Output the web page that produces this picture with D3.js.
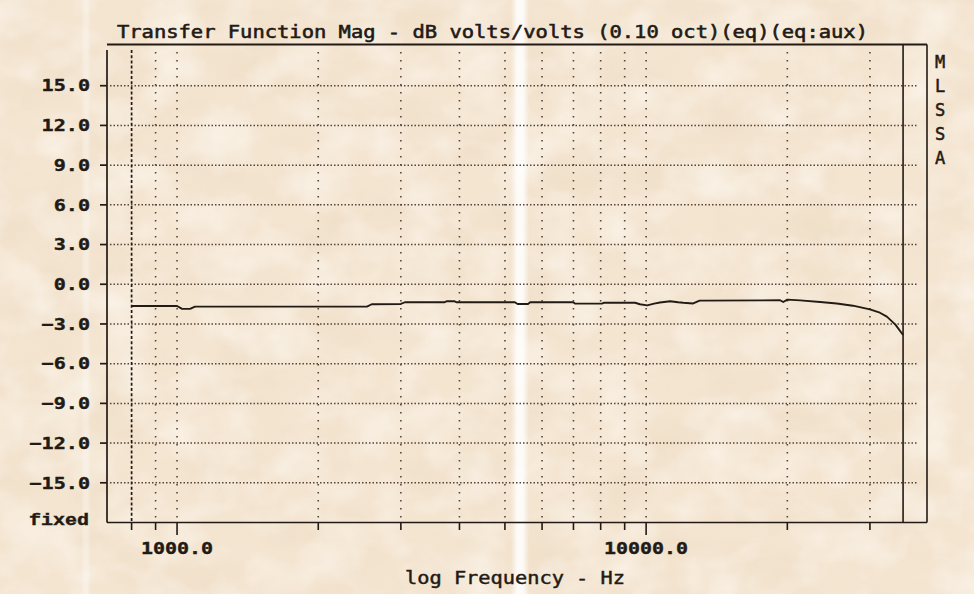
<!DOCTYPE html>
<html>
<head>
<meta charset="utf-8">
<script src="https://cdn.jsdelivr.net/npm/d3@7/dist/d3.min.js"></script>
<style>
  html, body { margin: 0; padding: 0; background: #f3e4d0; }
  svg { display: block; }
</style>
</head>
<body>
<svg id="chart" width="974" height="594"></svg>
<script>
// Transfer function magnitude, 0.1-octave smoothed (Hz, dB)
const freqHz = [800, 1000, 1025, 1066, 1092, 2540, 2600, 3000, 3060, 3720, 3760, 3900, 3940,
  5250, 5320, 5600, 5660, 6990, 7050, 8050, 8120, 9470, 9700, 10050, 10400, 10700, 11250,
  11700, 12000, 12600, 13000, 19300, 19600, 20000, 21300, 23500, 25500, 27600, 30000,
  31500, 32600, 34000, 35300];
const magDb = [-1.64, -1.64, -1.86, -1.86, -1.69, -1.69, -1.51, -1.49, -1.36, -1.36, -1.28, -1.28, -1.36,
  -1.36, -1.49, -1.49, -1.36, -1.36, -1.46, -1.46, -1.40, -1.40, -1.51, -1.60, -1.46, -1.38, -1.28,
  -1.36, -1.40, -1.45, -1.24, -1.21, -1.34, -1.16, -1.22, -1.34, -1.45, -1.62, -1.90,
  -2.15, -2.45, -3.05, -3.83];

// Axis ticks and labels
const yTicks = [15, 12, 9, 6, 3, 0, -3, -6, -9, -12, -15];
const xGridHz = [800, 900, 1000, 2000, 3000, 4000, 5000, 6000, 7000, 8000, 9000, 10000, 20000, 30000];
const xLabelHz = [1000, 10000];
const cursorHz = 800;
const titleText = "Transfer Function Mag - dB volts/volts (0.10 oct)(eq)(eq:aux)";
const xAxisTitle = "log Frequency - Hz";
const yModeLabel = "fixed";
const brandLetters = ["M", "L", "S", "S", "A"];

const ink = "#221a15";
const dotInk = "#54443a";
const mono = "'DejaVu Sans Mono', 'Liberation Mono', monospace";

const svg = d3.select("#chart");

// Paper background with soft mottling
const defs = svg.append("defs");
const paper = defs.append("filter").attr("id", "paper")
  .attr("x", 0).attr("y", 0).attr("width", "100%").attr("height", "100%");
paper.append("feTurbulence").attr("type", "fractalNoise")
  .attr("baseFrequency", "0.014 0.02").attr("numOctaves", 4).attr("seed", 11);
paper.append("feColorMatrix").attr("type", "matrix")
  .attr("values", "0 0 0 0 0.86  0 0 0 0 0.73  0 0 0 0 0.57  2.2 0 0 0 -0.85");
const paperLight = defs.append("filter").attr("id", "paperLight")
  .attr("x", 0).attr("y", 0).attr("width", "100%").attr("height", "100%");
paperLight.append("feTurbulence").attr("type", "fractalNoise")
  .attr("baseFrequency", "0.02 0.025").attr("numOctaves", 3).attr("seed", 4);
paperLight.append("feColorMatrix").attr("type", "matrix")
  .attr("values", "0 0 0 0 1  0 0 0 0 0.98  0 0 0 0 0.95  2.2 0 0 0 -0.9");
const band = defs.append("linearGradient").attr("id", "band").attr("x1", 0).attr("x2", 1);
band.append("stop").attr("offset", 0).attr("stop-color", "#fff").attr("stop-opacity", 0);
band.append("stop").attr("offset", 0.35).attr("stop-color", "#fff").attr("stop-opacity", 0.85);
band.append("stop").attr("offset", 0.65).attr("stop-color", "#fff").attr("stop-opacity", 0.85);
band.append("stop").attr("offset", 1).attr("stop-color", "#fff").attr("stop-opacity", 0);

svg.append("rect").attr("width", 974).attr("height", 594).attr("fill", "#f4e5d1");
svg.append("rect").attr("width", 974).attr("height", 594).attr("filter", "url(#paper)").attr("opacity", 0.6);
svg.append("rect").attr("width", 974).attr("height", 594).attr("filter", "url(#paperLight)").attr("opacity", 0.5);
svg.append("rect").attr("x", 511).attr("y", 0).attr("width", 18).attr("height", 594).attr("fill", "url(#band)");
svg.append("rect").attr("x", 81).attr("y", 0).attr("width", 10).attr("height", 594).attr("fill", "url(#band)").attr("opacity", 0.35);

// Scales
const x = d3.scaleLog().domain([709, 39700]).range([107, 927]);
const y = d3.scaleLinear().domain([-18, 18]).range([522.5, 46]);
const plotRight = x(35300);
const gridEnd = 918;

// Horizontal dotted grid
svg.append("g").selectAll("line").data(yTicks).join("line")
  .attr("x1", 110).attr("x2", gridEnd)
  .attr("y1", d => y(d)).attr("y2", d => y(d))
  .attr("stroke", dotInk).attr("stroke-width", 1.5)
  .attr("stroke-dasharray", "1.5 2");

// Vertical dotted grid
svg.append("g").selectAll("line").data(xGridHz.filter(f => f !== cursorHz)).join("line")
  .attr("x1", d => x(d)).attr("x2", d => x(d))
  .attr("y1", y.range()[1] + 6).attr("y2", y.range()[0] - 2)
  .attr("stroke", dotInk).attr("stroke-width", 1.6)
  .attr("stroke-dasharray", "1.6 6.4");

// Cursor line at the start of the measurement
svg.append("line")
  .attr("x1", x(cursorHz)).attr("x2", x(cursorHz))
  .attr("y1", y.range()[1] + 4).attr("y2", y.range()[0])
  .attr("stroke", ink).attr("stroke-width", 1.7)
  .attr("stroke-dasharray", "3 2.2");

// Frame
const frame = svg.append("g").attr("stroke", ink).attr("fill", "none");
frame.append("line").attr("x1", 107).attr("x2", 927).attr("y1", 44.5).attr("y2", 44.5).attr("stroke-width", 2);
frame.append("line").attr("x1", 107).attr("x2", 107).attr("y1", 50).attr("y2", y.range()[0]).attr("stroke-width", 1.7);
frame.append("line").attr("x1", 107).attr("x2", 927).attr("y1", y.range()[0]).attr("y2", y.range()[0]).attr("stroke-width", 1.7);
frame.append("line").attr("x1", plotRight).attr("x2", plotRight).attr("y1", 44.5).attr("y2", y.range()[0]).attr("stroke-width", 1.6);
frame.append("line").attr("x1", 927).attr("x2", 927).attr("y1", 44.5).attr("y2", y.range()[0]).attr("stroke-width", 1.6);

// Y axis ticks and labels
const yAxis = svg.append("g");
yAxis.selectAll("line").data(yTicks).join("line")
  .attr("x1", 100).attr("x2", 107)
  .attr("y1", d => y(d)).attr("y2", d => y(d))
  .attr("stroke", ink).attr("stroke-width", 1.7);
yAxis.selectAll("text").data(yTicks).join("text")
  .attr("x", 90).attr("y", d => y(d))
  .attr("dy", "0.36em").attr("text-anchor", "end")
  .attr("font-family", mono).attr("font-weight", "bold").attr("font-size", 16)
  .attr("fill", ink).attr("stroke", ink).attr("stroke-width", 0.4)
  .attr("textLength", d => d3.format(".1f")(d).length * 12.1)
  .attr("lengthAdjust", "spacingAndGlyphs")
  .text(d => d3.format(".1f")(d));
svg.append("text").attr("x", 89).attr("y", 519).attr("dy", "0.36em")
  .attr("text-anchor", "end")
  .attr("font-family", "'Liberation Mono', 'Courier New', monospace").attr("font-weight", "bold").attr("font-size", 16)
  .attr("fill", ink).attr("stroke", ink).attr("stroke-width", 0.4)
  .attr("textLength", 60).attr("lengthAdjust", "spacingAndGlyphs")
  .text(yModeLabel);

// X axis ticks and labels
const xAxis = svg.append("g");
xAxis.selectAll("line").data(xGridHz).join("line")
  .attr("x1", d => x(d)).attr("x2", d => x(d))
  .attr("y1", y.range()[0]).attr("y2", d => xLabelHz.includes(d) ? 535 : 530)
  .attr("stroke", ink).attr("stroke-width", 1.6);
xAxis.selectAll("text").data(xLabelHz).join("text")
  .attr("x", d => x(d)).attr("y", 548).attr("dy", "0.36em")
  .attr("text-anchor", "middle")
  .attr("font-family", mono).attr("font-weight", "bold").attr("font-size", 16)
  .attr("fill", ink).attr("stroke", ink).attr("stroke-width", 0.4)
  .attr("textLength", d => d3.format(".1f")(d).length * 12)
  .attr("lengthAdjust", "spacingAndGlyphs")
  .text(d => d3.format(".1f")(d));

// Titles
svg.append("text").attr("x", 117).attr("y", 32).attr("dy", "0.36em")
  .attr("font-family", mono).attr("font-size", 17.5).attr("fill", ink)
  .attr("stroke", ink).attr("stroke-width", 0.55)
  .attr("textLength", 751).attr("lengthAdjust", "spacingAndGlyphs")
  .text(titleText);
svg.append("text").attr("x", 405).attr("y", 578).attr("dy", "0.36em")
  .attr("font-family", mono).attr("font-size", 17.5).attr("fill", ink)
  .attr("stroke", ink).attr("stroke-width", 0.45)
  .attr("textLength", 220).attr("lengthAdjust", "spacingAndGlyphs")
  .text(xAxisTitle);

// Vertical brand letters
svg.append("g").selectAll("text").data(brandLetters).join("text")
  .attr("x", 940).attr("y", (d, i) => 62 + i * 24).attr("dy", "0.36em")
  .attr("text-anchor", "middle")
  .attr("font-family", mono).attr("font-size", 17).attr("fill", ink)
  .attr("stroke", ink).attr("stroke-width", 0.5)
  .text(d => d);

// Magnitude curve
const pts = freqHz.map((f, i) => [f, magDb[i]]);
svg.append("path").datum(pts)
  .attr("fill", "none").attr("stroke", ink).attr("stroke-width", 1.9)
  .attr("stroke-linejoin", "round")
  .attr("d", d3.line().x(d => x(d[0])).y(d => y(d[1])));
</script>
</body>
</html>
